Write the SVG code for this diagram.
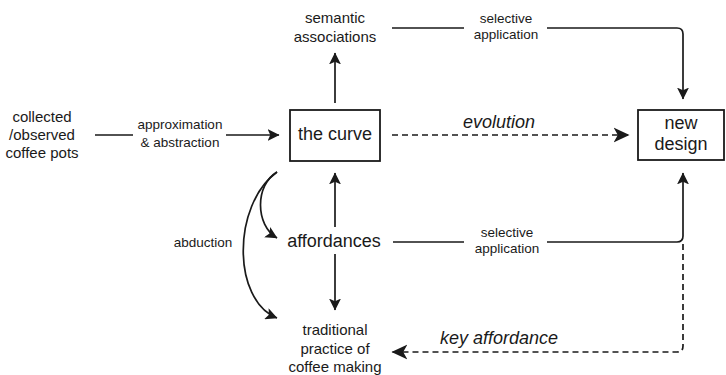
<svg xmlns="http://www.w3.org/2000/svg" width="726" height="375" viewBox="0 0 726 375">
<style>
text{font-family:"Liberation Sans",Arial,sans-serif;fill:#1a1a1a;text-anchor:middle}
.s{font-size:13.5px}
.m{font-size:15px}
.l{font-size:18px}
.i{font-size:18px;font-style:italic}
.box{fill:#fff;stroke:#1a1a1a;stroke-width:1.8}
.ln{fill:none;stroke:#1a1a1a;stroke-width:1.7}
.da{stroke-dasharray:6 4}
</style>
<defs>
<marker id="a" markerUnits="userSpaceOnUse" markerWidth="12" markerHeight="12" viewBox="0 0 11 11" refX="10.5" refY="5.5" orient="auto">
<path d="M0,0 L11,5.5 L0,11 L2.5,5.5 z" fill="#1a1a1a"/>
</marker>
<marker id="b" markerUnits="userSpaceOnUse" markerWidth="16" markerHeight="16" viewBox="0 0 15 14" refX="14.5" refY="7" orient="auto">
<path d="M0,0 L15,7 L0,14 L4,7 z" fill="#1a1a1a"/>
</marker>
</defs>
<g id="connectors">
<path class="ln" d="M95,135 H133 M226,135 H279" marker-end="url(#a)"/>
<path class="ln" d="M335,103 V53" marker-end="url(#a)"/>
<path class="ln da" d="M392,135 H629" marker-end="url(#b)"/>
<path class="ln" d="M392,28 H464 M547,28 H677 Q683,28 683,34 V99" marker-end="url(#a)"/>
<path class="ln" d="M335,227 V173" marker-end="url(#a)"/>
<path class="ln" d="M335,254 V310" marker-end="url(#a)"/>
<path class="ln" d="M393,242 H464 M547,242 H677 Q683,242 683,236 V173" marker-end="url(#a)"/>
<path class="ln da" d="M683,244 V346 Q683,352 677,352 H392" marker-end="url(#b)"/>
<path class="ln" d="M277,172 C255,185 255,225 277,238" marker-end="url(#a)"/>
<path class="ln" d="M277,172 C232,205 232,300 277,318" marker-end="url(#a)"/>
</g>
<g id="coffee-pots">
<text class="m" x="42" y="122">collected</text>
<text class="m" x="42" y="140">/observed</text>
<text class="m" x="42" y="158">coffee pots</text>
</g>
<g id="label-approx">
<text class="s" x="180" y="129">approximation</text>
<text class="s" x="180" y="147">&amp; abstraction</text>
</g>
<g id="the-curve">
<rect class="box" x="290" y="110" width="90" height="51"/>
<text class="l" x="335" y="140">the curve</text>
</g>
<g id="new-design">
<rect class="box" x="638" y="110" width="86" height="50"/>
<text class="l" x="681" y="129">new</text>
<text class="l" x="681" y="150">design</text>
</g>
<g id="semantic">
<text class="m" x="335" y="23">semantic</text>
<text class="m" x="335" y="42">associations</text>
</g>
<g id="label-sel1">
<text class="s" x="506" y="23">selective</text>
<text class="s" x="506" y="39">application</text>
</g>
<g id="label-evolution">
<text class="i" x="499" y="128">evolution</text>
</g>
<g id="affordances">
<text class="l" x="334" y="247">affordances</text>
</g>
<g id="label-abduction">
<text class="s" x="203" y="247">abduction</text>
</g>
<g id="label-sel2">
<text class="s" x="507" y="237">selective</text>
<text class="s" x="507" y="253">application</text>
</g>
<g id="traditional">
<text class="m" x="335" y="335">traditional</text>
<text class="m" x="335" y="354">practice of</text>
<text class="m" x="335" y="372">coffee making</text>
</g>
<g id="label-key">
<text class="i" x="499" y="344">key affordance</text>
</g>
</svg>
